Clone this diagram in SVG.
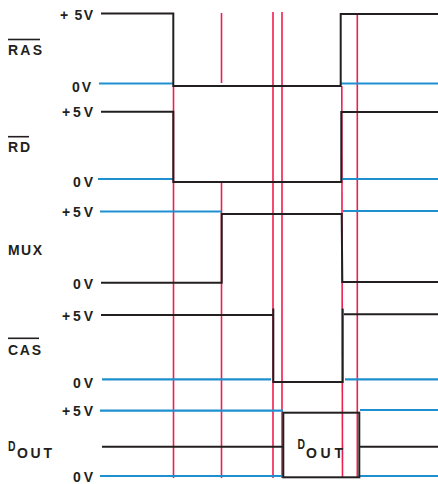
<svg xmlns="http://www.w3.org/2000/svg" width="438" height="484" viewBox="0 0 438 484">
<style>
.bk{stroke:#231f20;stroke-width:2;fill:none;stroke-linecap:square}
.bl{stroke:#1e8fcf;stroke-width:2.2;fill:none}
.rd{stroke:#ee1f4f;stroke-width:1.6;fill:none}
.ov{stroke:#231f20;stroke-width:1.6}
text{font-family:"Liberation Sans",Arial,sans-serif;font-weight:bold;fill:#231f20;font-size:14px}
</style>
<rect width="438" height="484" fill="#ffffff"/>
<g id="connectors">
<g id="markers-red">
<line class="rd" x1="173.5" y1="86" x2="173.5" y2="478"/>
<line class="rd" x1="221.5" y1="13" x2="221.5" y2="83"/>
<line class="rd" x1="221.5" y1="183" x2="221.5" y2="478"/>
<line class="rd" x1="273" y1="12" x2="273" y2="478"/>
<line class="rd" x1="282" y1="12" x2="282" y2="478"/>
<line class="rd" x1="341.8" y1="86" x2="342.5" y2="478"/>
<line class="rd" x1="357.3" y1="13" x2="357.3" y2="478"/>
</g>
</g>
<g id="ras">
<text x="93" y="19.5" text-anchor="end" textLength="33" lengthAdjust="spacing">+ 5V</text>
<text x="8" y="55" textLength="34" lengthAdjust="spacing">RAS</text>
<line class="ov" x1="8" y1="39.5" x2="40" y2="39.5"/>
<text x="91" y="92" text-anchor="end" textLength="19" lengthAdjust="spacing">0V</text>
<line class="bl" x1="99" y1="83.5" x2="173" y2="83.5"/>
<line class="bl" x1="341" y1="83.5" x2="438" y2="83.5"/>
<polyline class="bk" points="102,13.5 173.3,13.5 173.3,86 340.7,86 340.7,14 438,14"/>
</g>
<g id="rd">
<text x="93" y="117" text-anchor="end" textLength="31" lengthAdjust="spacing">+5V</text>
<text x="8" y="152" textLength="22" lengthAdjust="spacing">RD</text>
<line class="ov" x1="8" y1="136.7" x2="29" y2="136.7"/>
<text x="93" y="187" text-anchor="end" textLength="20" lengthAdjust="spacing">0V</text>
<line class="bl" x1="98" y1="179" x2="173" y2="179"/>
<line class="bl" x1="342" y1="179" x2="438" y2="179"/>
<polyline class="bk" points="102,111.7 173.3,111.7 173.3,182 341.3,182 341.3,112 438,112"/>
</g>
<g id="mux">
<text x="93" y="217" text-anchor="end" textLength="31" lengthAdjust="spacing">+5V</text>
<text x="8" y="255" textLength="34" lengthAdjust="spacing">MUX</text>
<text x="93" y="289" text-anchor="end" textLength="20" lengthAdjust="spacing">0V</text>
<line class="bl" x1="100" y1="211.5" x2="221" y2="211.5"/>
<line class="bl" x1="343" y1="211" x2="438" y2="211"/>
<polyline class="bk" points="102,282.7 221.7,282.7 221.7,214 341.7,214 342.3,282 438,282"/>
</g>
<g id="cas">
<text x="93" y="320.5" text-anchor="end" textLength="31" lengthAdjust="spacing">+5V</text>
<text x="8" y="355" textLength="33" lengthAdjust="spacing">CAS</text>
<line class="ov" x1="8" y1="338.3" x2="39" y2="338.3"/>
<text x="93" y="388" text-anchor="end" textLength="20" lengthAdjust="spacing">0V</text>
<line class="bl" x1="102" y1="379.3" x2="271" y2="379.3"/>
<line class="bl" x1="345" y1="379.3" x2="438" y2="379.3"/>
<polyline class="bk" points="102,315 272.5,315"/>
<polyline class="bk" points="273.3,309.5 273.3,382 342.7,382 342.7,309.5"/>
<line class="bk" x1="345" y1="314.3" x2="438" y2="314.3"/>
</g>
<g id="dout">
<text x="93" y="416" text-anchor="end" textLength="31" lengthAdjust="spacing">+5V</text>
<text x="8" y="451" font-size="12" textLength="7.5" lengthAdjust="spacingAndGlyphs">D</text>
<text x="17" y="457.5" textLength="35" lengthAdjust="spacing">OUT</text>
<text x="93" y="482" text-anchor="end" textLength="20" lengthAdjust="spacing">0V</text>
<line class="bl" x1="100" y1="410.7" x2="283" y2="410.7"/>
<line class="bl" x1="360" y1="410" x2="438" y2="410"/>
<line class="bl" x1="100" y1="476" x2="283" y2="476"/>
<line class="bl" x1="360" y1="476" x2="438" y2="476"/>
<line class="bk" x1="103" y1="446.7" x2="283" y2="446.7"/>
<line class="bk" x1="360" y1="446.7" x2="438" y2="446.7"/>
<rect class="bk" x="283.3" y="412.7" width="76" height="64.6"/>
<text x="297.5" y="448.5" font-size="12" textLength="7.5" lengthAdjust="spacingAndGlyphs">D</text>
<text x="306" y="458" textLength="37" lengthAdjust="spacing">OUT</text>
</g>
</svg>
